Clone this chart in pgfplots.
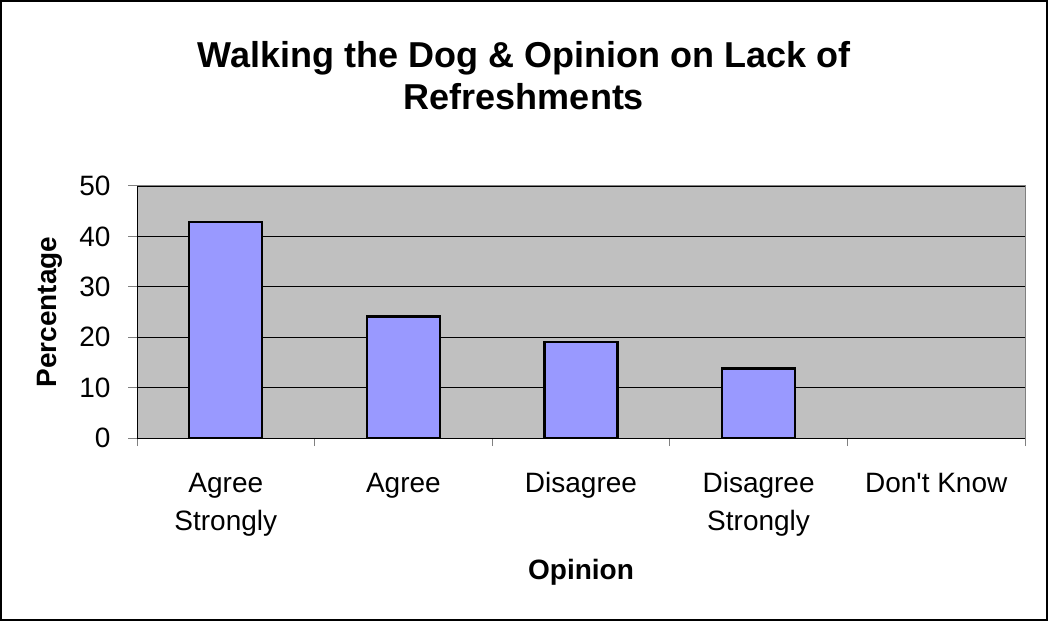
\documentclass[border=0pt]{standalone}
\usepackage{pgfplots}
\pgfplotsset{compat=1.18}
\usepackage{fontspec}
\setmainfont{Liberation Sans}
\definecolor{plotbg}{HTML}{C0C0C0}
\definecolor{barfill}{HTML}{9999FF}
\definecolor{frameg}{HTML}{808080}
\begin{document}
\begin{tikzpicture}[x=1pt,y=1pt]
\useasboundingbox (0,0) rectangle (1048,621);
\draw[line width=2pt] (1,1) rectangle (1047,620);
\node[align=center, font=\fontsize{36}{42}\selectfont\bfseries] at (524,545) {Walking the Dog \& Opinion on Lack of\\Refreshments};
\begin{axis}[
  at={(137pt,183pt)}, anchor=south west,
  scale only axis, width=888pt, height=252pt,
  xmin=-0.5, xmax=4.5, ymin=0, ymax=50,
  ytick={0,10,...,50},
  xtick={0,...,4},
  xticklabels={{\rule{0pt}{21pt}Agree\\Strongly},{\rule{0pt}{21pt}Agree},{\rule{0pt}{21pt}Disagree},{\rule{0pt}{21pt}Disagree\\Strongly},{\rule{0pt}{21pt}Don\textquotesingle t Know}},
  minor xtick={-0.5,0.5,...,4.5},
  major x tick style={draw=none},
  minor x tick style={draw=frameg, line width=1pt},
  major y tick style={draw=frameg, line width=1pt},
  tick align=outside,
  major tick length=9pt, minor tick length=8pt,
  ymajorgrids, grid style={black, line width=0.8pt},
  axis background/.style={fill=plotbg},
  axis x line*=bottom, axis y line*=left,
  axis line style={black, line width=1pt},
  tick label style={font=\fontsize{28}{38}\selectfont},
  /pgf/number format/assume math mode=true,
  xticklabel style={align=center, anchor=north, yshift=-21pt},
  yticklabel style={xshift=-14pt},
  xlabel=Opinion, ylabel=Percentage,
  label style={font=\fontsize{28}{34}\selectfont\bfseries},
  xlabel style={at={(axis description cs:0.5,-0.532)}, anchor=center},
  ylabel style={at={(axis description cs:-0.098,0.5)}, anchor=center},
  ybar, bar width=0.41,
  clip=false,
]
\addplot[fill=barfill, draw=black, line width=2.2pt] coordinates {(0,42.9) (1,24.1) (2,19.1) (3,13.8)};
\draw[frameg, line width=1pt] (rel axis cs:0,1) -- (rel axis cs:1,1) -- (rel axis cs:1,0);
\end{axis}
\end{tikzpicture}
\end{document}
